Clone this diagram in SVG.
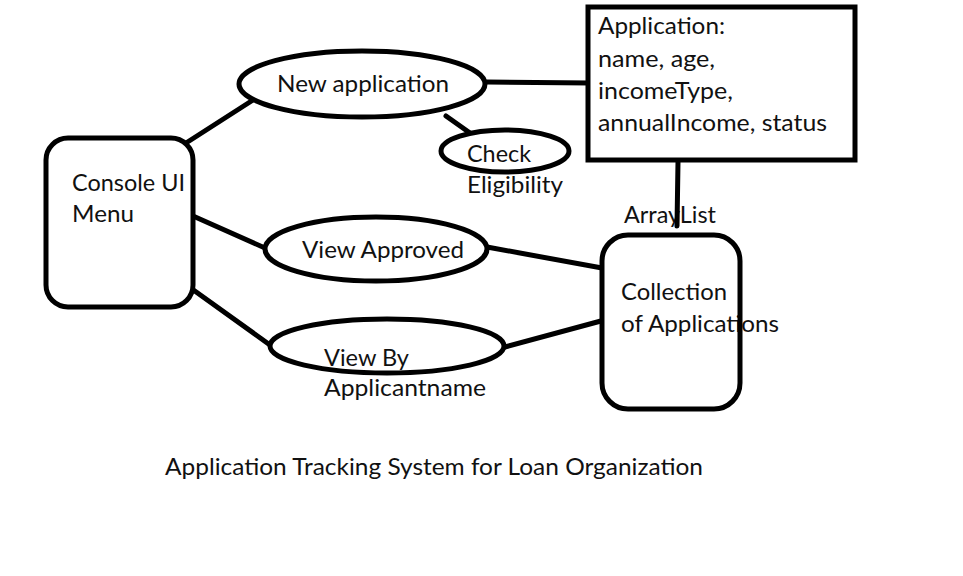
<svg xmlns="http://www.w3.org/2000/svg" width="963" height="576" viewBox="0 0 963 576">
<style>
.s{fill:none;stroke:#000;stroke-width:5;stroke-linecap:round;stroke-linejoin:round}
.n{fill:#fff;stroke:#000;stroke-width:5}
.o{fill:none;stroke:#000;stroke-width:5}
text{font-family:Lato,"Open Sans","Liberation Sans",sans-serif;font-size:23px;fill:#111}
</style>
<rect width="963" height="576" fill="#fff"/>
<g id="arraylist-label">
<text x="624" y="223" textLength="92" lengthAdjust="spacingAndGlyphs">ArrayList</text>
</g>
<g id="connectors">
<line class="s" x1="186" y1="143" x2="253" y2="100"/>
<line class="s" x1="487" y1="82" x2="590" y2="83"/>
<line class="s" x1="446" y1="116" x2="470" y2="133"/>
<line class="s" x1="193" y1="216" x2="265" y2="248"/>
<line class="s" x1="487" y1="247" x2="613" y2="270"/>
<line class="s" x1="192" y1="289" x2="270" y2="345"/>
<line class="s" x1="505" y1="347" x2="612" y2="318"/>
<line class="s" x1="678" y1="162" x2="677" y2="226"/>
</g>
<g id="console">
<rect class="n" x="46" y="138" width="147" height="169" rx="22"/>
<text x="72" y="191" textLength="113" lengthAdjust="spacingAndGlyphs">Console UI</text>
<text x="72" y="222" textLength="62" lengthAdjust="spacingAndGlyphs">Menu</text>
</g>
<g id="new-application">
<ellipse class="n" cx="362" cy="84" rx="123" ry="33"/>
<text x="277" y="92" textLength="172" lengthAdjust="spacingAndGlyphs">New application</text>
</g>
<g id="check-eligibility">
<ellipse class="n" cx="505" cy="151" rx="64" ry="21"/>
<text x="467" y="162" textLength="64" lengthAdjust="spacingAndGlyphs">Check</text>
<text x="467" y="193" textLength="96" lengthAdjust="spacingAndGlyphs">Eligibility</text>
</g>
<g id="application-class">
<rect class="n" x="588" y="7" width="267" height="153"/>
<text x="598" y="34" textLength="127" lengthAdjust="spacingAndGlyphs">Application:</text>
<text x="598" y="67" textLength="117" lengthAdjust="spacingAndGlyphs">name, age,</text>
<text x="598" y="99" textLength="135" lengthAdjust="spacingAndGlyphs">incomeType,</text>
<text x="598" y="131" textLength="229" lengthAdjust="spacingAndGlyphs">annualIncome, status</text>
</g>
<g id="view-approved">
<ellipse class="n" cx="376" cy="249" rx="111" ry="32"/>
<text x="302" y="258" textLength="162" lengthAdjust="spacingAndGlyphs">View Approved</text>
</g>
<g id="view-by-applicantname">
<ellipse class="n" cx="387" cy="346" rx="117" ry="27"/>
<text x="324" y="366" textLength="85" lengthAdjust="spacingAndGlyphs">View By</text>
<text x="324" y="396" textLength="162" lengthAdjust="spacingAndGlyphs">Applicantname</text>
</g>
<g id="collection">
<rect x="602" y="235" width="138" height="174" rx="26" fill="#fff"/>
<text x="621" y="300" textLength="106" lengthAdjust="spacingAndGlyphs">Collection</text>
<text x="621" y="332" textLength="158" lengthAdjust="spacingAndGlyphs">of Applications</text>
<rect class="o" x="602" y="235" width="138" height="174" rx="26"/>
</g>
<g id="title">
<text x="165" y="475" textLength="538" lengthAdjust="spacingAndGlyphs">Application Tracking System for Loan Organization</text>
</g>
</svg>
